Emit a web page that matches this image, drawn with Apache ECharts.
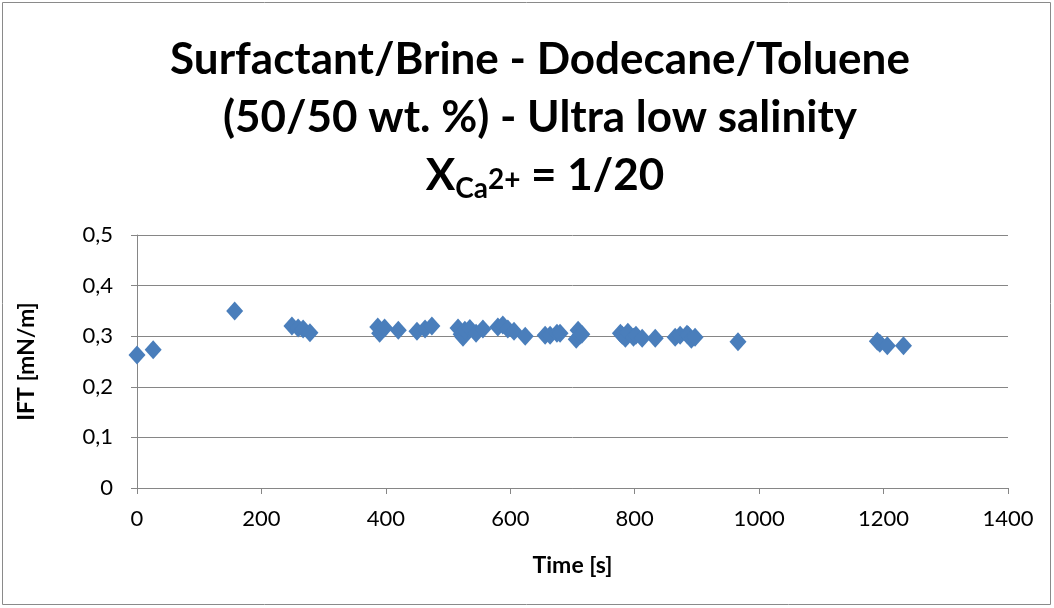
<!DOCTYPE html>
<html>
<head>
<meta charset="utf-8">
<script src="https://cdn.jsdelivr.net/npm/echarts@6/dist/echarts.min.js"></script>
<style>html,body{margin:0;padding:0;background:#fff}#c{width:1054px;height:608px}</style>
</head>
<body>
<div id="c"></div>
<script>
// Time [s]
var times = [0, 26, 157, 249, 259, 267, 278,
  387, 390, 398, 420, 450, 463, 474,
  516, 521, 524, 527, 535, 545, 556,
  580, 588, 596, 606, 624,
  656, 664, 675, 680, 706, 709, 712, 715,
  777, 780, 785, 789, 798, 802, 812, 833,
  865, 873, 884, 886, 891, 897,
  966, 1190, 1194, 1206, 1232];
// IFT [mN/m]
var ift = [0.263, 0.273, 0.350, 0.320, 0.316, 0.314, 0.307,
  0.318, 0.306, 0.316, 0.312, 0.310, 0.314, 0.320,
  0.316, 0.304, 0.298, 0.312, 0.315, 0.306, 0.314,
  0.318, 0.322, 0.314, 0.310, 0.300,
  0.302, 0.302, 0.306, 0.306, 0.294, 0.312, 0.302, 0.304,
  0.306, 0.302, 0.296, 0.308, 0.298, 0.302, 0.296, 0.296,
  0.298, 0.302, 0.304, 0.302, 0.294, 0.298,
  0.289, 0.290, 0.286, 0.281, 0.281];
var xTicks = [0, 200, 400, 600, 800, 1000, 1200, 1400];
var yTicks = [0, 0.1, 0.2, 0.3, 0.4, 0.5];

var pts = times.map(function (t, i) { return [t, ift[i]]; });
var font = 'Lato, "Open Sans", sans-serif';
var chart = echarts.init(document.getElementById('c'));
chart.setOption({
  backgroundColor: '#fff',
  animation: false,
  title: [
    { text: 'Surfactant/Brine - Dodecane/Toluene', left: 535, top: 33, textAlign: 'center',
      textStyle: { fontFamily: font, fontWeight: 'bold', fontSize: 44, color: '#000' } },
    { text: '(50/50 wt. %) - Ultra low salinity', left: 535, top: 91, textAlign: 'center',
      textStyle: { fontFamily: font, fontWeight: 'bold', fontSize: 44, color: '#000' } },
    { text: '{a|X}{sub|Ca}{sup|2+}{a| = 1/20}', left: 540, top: 146, textAlign: 'center',
      textStyle: { fontFamily: font, fontWeight: 'bold', color: '#000',
        rich: {
          a: { fontFamily: font, fontWeight: 'bold', fontSize: 44, color: '#000', lineHeight: 50, verticalAlign: 'middle' },
          sub: { fontFamily: font, fontWeight: 'bold', fontSize: 28, color: '#000', lineHeight: 50, padding: [26, 0, 0, 0] },
          sup: { fontFamily: font, fontWeight: 'bold', fontSize: 28, color: '#000', lineHeight: 50, padding: [8, 0, 0, 0] }
        } } }
  ],
  graphic: [{ type: 'rect', shape: { x: 2.5, y: 2.5, width: 1048, height: 602 },
    style: { fill: 'none', stroke: '#8a8a8a', lineWidth: 1 }, silent: true }],
  grid: { left: 137, right: 46, top: 235, bottom: 120, containLabel: false },
  xAxis: {
    type: 'value', min: 0, max: 1400, interval: 200,
    name: 'Time [s]', nameLocation: 'middle', nameGap: 66,
    nameTextStyle: { fontFamily: font, fontWeight: 'bold', fontSize: 23, color: '#000' },
    axisLine: { lineStyle: { color: '#868686', width: 1 } },
    axisTick: { show: true, length: 6, lineStyle: { color: '#868686' } },
    axisLabel: { fontFamily: font, fontSize: 22, color: '#000', margin: 20,
      formatter: function (v) { return String(v); } },
    splitLine: { show: false }
  },
  yAxis: {
    type: 'value', min: 0, max: 0.5, interval: 0.1,
    name: 'IFT [mN/m]', nameLocation: 'middle', nameGap: 99, nameRotate: 90,
    nameTextStyle: { fontFamily: font, fontWeight: 'bold', fontSize: 23, color: '#000' },
    axisLine: { show: true, lineStyle: { color: '#868686', width: 1 } },
    axisTick: { show: true, length: 6, lineStyle: { color: '#868686' } },
    axisLabel: { fontFamily: font, fontSize: 22, color: '#000', margin: 24,
      formatter: function (v) { return String(+v.toFixed(1)).replace('.', ','); } },
    splitLine: { show: true, lineStyle: { color: '#868686', width: 1 } }
  },
  series: [{
    type: 'scatter', data: pts, symbol: 'diamond', symbolSize: [17, 19],
    itemStyle: { color: '#4a7ebb', opacity: 1 }
  }]
});
</script>
</body>
</html>
